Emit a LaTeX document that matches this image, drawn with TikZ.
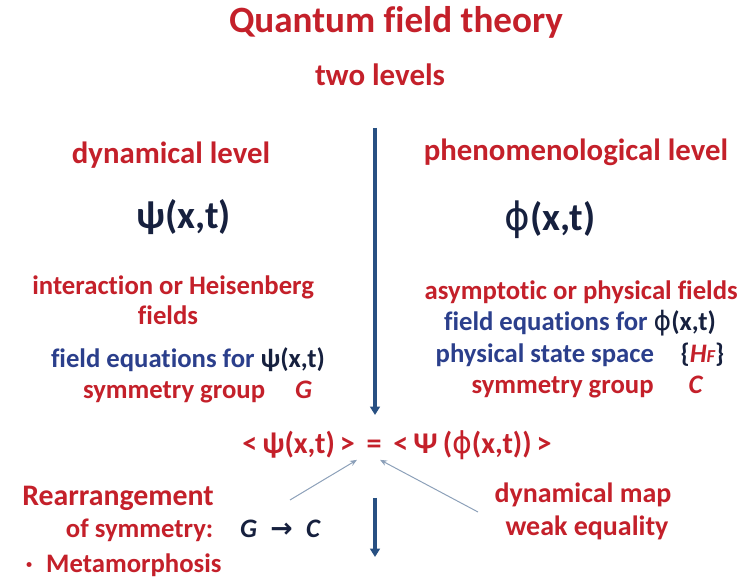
\documentclass[tikz,border=0pt]{standalone}
\usepackage{fontspec}
\setmainfont{Carlito}[Ligatures=NoCommon]
\newfontfamily\arrowfont{DejaVu Sans}
\newcommand{\phisym}{{\arrowfont\mdseries ϕ}}
\usetikzlibrary{arrows.meta}

\definecolor{qred}{RGB}{196,32,42}
\definecolor{qblue}{RGB}{43,63,140}
\definecolor{qdark}{RGB}{22,32,62}
\definecolor{qarrow}{RGB}{40,80,130}
\definecolor{qgray}{RGB}{140,160,185}

\begin{document}
\begin{tikzpicture}[x=1cm,y=1cm, every node/.style={font=\bfseries\fontsize{19}{22}\selectfont, inner sep=0pt},
    redtxt/.style={text=qred}, bluetxt/.style={text=qblue},
    headtxt/.style={text=qred, font=\bfseries\fontsize{21.9}{25}\selectfont},
    bigfield/.style={text=qdark, font=\bfseries\fontsize{27.8}{31}\selectfont},
    mainarrow/.style={-{Triangle[width=7pt,length=6pt]}, line width=2.4pt, qarrow},
    thinarrow/.style={-{Stealth[width=4pt,length=5pt]}, line width=0.7pt, qgray}]
    \fill[white] (0,0) rectangle (18.725,14.425);
    \useasboundingbox (0,0) rectangle (18.725,14.425);
    % titles
    \node[redtxt, font=\bfseries\fontsize{26.4}{30}\selectfont] (title) at (9.9,13.875) {Quantum field theory};
    \node[redtxt, font=\bfseries\fontsize{22}{25}\selectfont] (levels) at (9.5,12.55) {two levels};
    % left column
    \node[headtxt] (dyn) at (4.275,10.55) {dynamical level};
    \node[bigfield] (psi) at (4.6,9.0) {ψ(x,t)};
    \node[redtxt] (inter) at (4.33,7.25) {interaction or Heisenberg};
    \node[redtxt] (fields) at (4.2,6.55) {fields};
    \node[bluetxt] (lefteq) at (4.7,5.425) {field equations for \textcolor{qdark}{ψ(x,t)}};
    \node[redtxt] (leftsym) at (4.94,4.625) {symmetry group\hspace{30\dimexpr0.025cm}\itshape G};
    % right column
    \node[headtxt] (phen) at (14.4,10.625) {phenomenological level};
    \node[bigfield] (phi) at (13.75,8.925) {\phisym(x,t)};
    \node[redtxt] (asym) at (14.53,7.125) {asymptotic or physical fields};
    \node[bluetxt] (righteq) at (14.5,6.35) {field equations for \textcolor{qdark}{\phisym(x,t)}};
    \node[bluetxt] (space) at (14.5,5.55) {physical state space\quad\textcolor{qdark}{\{}\textcolor{qred}{\itshape H{\fontsize{13}{14}\selectfont F}}\textcolor{qdark}{\}}};
    \node[redtxt] (rightsym) at (14.675,4.75) {symmetry group\hspace{35\dimexpr0.025cm}\itshape C};
    % weak equality
    \node[redtxt, font=\bfseries\fontsize{21.4}{24}\selectfont] (weq) at (9.925,3.3) {<\,ψ(x,t)\,>\, =\, <\,Ψ\,(\phisym(x,t))\,>};
    \node[redtxt, font=\bfseries\fontsize{21.2}{24}\selectfont] (rearr) at (2.95,1.975) {Rearrangement};
    \node[redtxt] (ofsym) at (4.825,1.175) {of symmetry:\quad\textcolor{qdark}{\itshape G\enspace{\arrowfont\upshape →}\enspace C}};
    \node[redtxt] (meta) at (3.09,0.3) {·\enspace Metamorphosis};
    \node[redtxt, font=\bfseries\fontsize{19.9}{23}\selectfont] (dmap) at (14.575,2.05) {dynamical map};
    \node[redtxt, font=\bfseries\fontsize{19.9}{23}\selectfont] (weak) at (14.675,1.225) {weak equality};
    % connectors
    \coordinate (topstart) at (9.375,11.225);
    \coordinate (topend) at (9.375,4.05);
    \coordinate (lowstart) at (9.375,1.975);
    \coordinate (lowend) at (9.375,0.5);
    \coordinate (fromleft) at (7.25,1.925);
    \coordinate (fromright) at (11.95,1.625);
    \draw[mainarrow] (topstart) -- (topend);
    \draw[mainarrow] (lowstart) -- (lowend);
    \draw[thinarrow] (fromleft) -- (weq.south -| 8.925,0);
    \draw[thinarrow] (fromright) -- (weq.south -| 9.5,0);
\end{tikzpicture}
\end{document}
